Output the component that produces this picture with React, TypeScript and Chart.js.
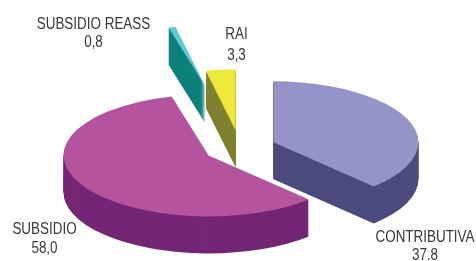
import React, { useEffect, useRef } from "react";
import { Chart, registerables } from "chart.js";

Chart.register(...registerables);

// ---- data ----
const categories = ["CONTRIBUTIVA", "SUBSIDIO", "SUBSIDIO REASS", "RAI"];
const values = [37.8, 58.0, 0.8, 3.3];
const valueLabels = ["37.8", "58,0", "0,8", "3,3"];

// ---- styles ----
const topColors = ["#9494C8", "#B4549E", "#63C8D6", "#EEEA3A"];
const sideColors = ["#4B4B7D", "#742674", "#0E807A", "#808032"];
const explode = [36, 36, 150, 42];
// [centerX, baseline line 1, baseline line 2]
const labelPos = [
  [425, 242, 260],
  [44.5, 234, 253],
  [93.5, 28.7, 47],
  [236.5, 39.3, 60],
];

const CX = 240;
const CY = 148;
const RX = 145;
const RY = 61;
const DEPTH = 37;

const pie3d = {
  id: "pie3d",
  beforeDatasetsDraw(chart: any) {
    const ctx: CanvasRenderingContext2D = chart.ctx;
    const arcs = chart.getDatasetMeta(0).data;
    const k = RY / RX;
    const path = (arc: any, i: number, dy: number) => {
      const { startAngle, endAngle, outerRadius } = arc.getProps(
        ["startAngle", "endAngle", "outerRadius"],
        true
      );
      const mid = (startAngle + endAngle) / 2;
      const ox = CX + Math.cos(mid) * explode[i];
      const oy = CY + Math.sin(mid) * explode[i] * k + dy;
      ctx.save();
      ctx.translate(ox, oy);
      ctx.scale(RX / outerRadius, RY / outerRadius);
      ctx.beginPath();
      ctx.moveTo(0, 0);
      ctx.arc(0, 0, outerRadius, startAngle, endAngle);
      ctx.closePath();
      ctx.restore();
    };
    for (let d = DEPTH; d >= 1; d--) {
      arcs.forEach((arc: any, i: number) => {
        path(arc, i, d);
        ctx.fillStyle = sideColors[i];
        ctx.fill();
      });
    }
    arcs.forEach((arc: any, i: number) => {
      path(arc, i, 0);
      ctx.fillStyle = topColors[i];
      ctx.fill();
    });
    return false;
  },
  afterDraw(chart: any) {
    const ctx: CanvasRenderingContext2D = chart.ctx;
    ctx.save();
    ctx.fillStyle = "#383838";
    ctx.font = '16px "Liberation Sans", Arial, sans-serif';
    ctx.textAlign = "center";
    ctx.textBaseline = "alphabetic";
    categories.forEach((c, i) => {
      const [x, b1, b2] = labelPos[i];
      ctx.save();
      ctx.translate(x, b1);
      ctx.scale(0.84, 1);
      ctx.fillText(c, 0, 0);
      ctx.restore();
      ctx.save();
      ctx.translate(x, b2);
      ctx.scale(0.84, 1);
      ctx.fillText(valueLabels[i], 0, 0);
      ctx.restore();
    });
    ctx.restore();
  },
};

export default function App() {
  const ref = useRef<HTMLCanvasElement | null>(null);
  useEffect(() => {
    if (!ref.current) return;
    const chart = new Chart(ref.current, {
      type: "pie",
      data: {
        labels: categories,
        datasets: [
          {
            data: values,
            backgroundColor: topColors,
            borderWidth: 0,
          },
        ],
      },
      options: {
        responsive: true,
        maintainAspectRatio: false,
        animation: false,
        layout: { padding: 0 },
        plugins: {
          legend: { display: false },
          tooltip: { enabled: false },
        },
      },
      plugins: [pie3d],
    });
    return () => chart.destroy();
  }, []);
  return (
    <div
      style={{
        position: "fixed",
        left: 0,
        top: 0,
        width: 476,
        height: 261,
        background: "#fff",
      }}
    >
      <canvas ref={ref} />
    </div>
  );
}
